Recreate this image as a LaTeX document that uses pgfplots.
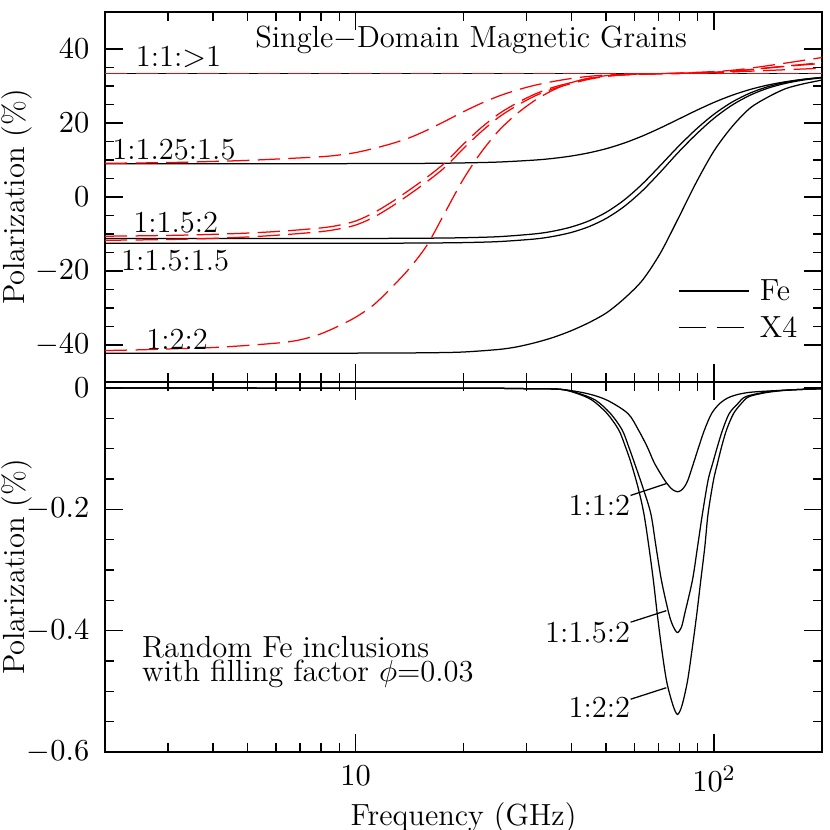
\documentclass[border=0pt]{standalone}
\usepackage{pgfplots}
\pgfplotsset{compat=1.18}
\definecolor{xred}{RGB}{255,0,0}
\tikzset{
  myfe/.style={black, line width=0.45pt, smooth},
  myxf/.style={xred, line width=0.45pt, smooth, dash pattern=on 8pt off 3pt},
}
\begin{document}
\begin{tikzpicture}[font=\fontsize{11pt}{13pt}\selectfont]
\path[use as bounding box] (0,0) rectangle (298.8pt,298.8pt);

% ---------------- top panel ----------------
\begin{axis}[
  xmode=log, xmin=2, xmax=200,
  scale only axis, width=258.12pt, height=133.2pt,
  at={(37.8pt,161.28pt)}, anchor=south west,
  xtick={10,100},
  minor xtick={2,3,4,5,6,7,8,9,20,30,40,50,60,70,80,90,200},
  minor y tick num=3,
  tick align=inside,
  major tick length=6.5pt, minor tick length=3.4pt,
  tick style={black, line width=0.5pt},
  axis line style={line width=0.5pt},
  ylabel={Polarization (\%)},
  ylabel style={at={(rel axis cs:-0.1228,0.5)}, anchor=center},
  yticklabel style={xshift=-2.1pt},
  ymin=-50, ymax=50, ytick={-40,-20,0,20,40},
  yticklabels={$-40$,$-20$,$0$,$20$,$40$},
  xticklabels={},
  legend image code/.code={\draw[#1] (0pt,0pt) -- (25.2pt,0pt);},
  legend style={draw=none, fill=none, at={(rel axis cs:0.7992,0.2738)}, anchor=north west,
    inner sep=0pt, row sep=6.2pt,
    nodes={inner sep=0pt, text height=7pt, text depth=0pt, anchor=west},
    /tikz/every odd column/.append style={column sep=3.6pt}},
]
\addlegendimage{black, line width=0.45pt}
\addlegendentry{Fe}
\addlegendimage{black, line width=0.45pt, dash pattern=on 9.8pt off 3.8pt}
\addlegendentry{X4}

% Fe curves
\addplot[myfe, no marks, forget plot] coordinates {(2,33.33) (200,33.33)};
\addplot[myfe, no marks, forget plot] coordinates {(2,9.0) (10,9.02) (15.85,9.09) (19.95,9.21) (25.12,9.45) (31.62,9.98) (35.48,10.42) (39.81,11.05) (44.67,11.92) (50.12,13.08) (56.23,14.60) (63.10,16.48) (70.79,18.65) (79.43,21.00) (89.13,23.37) (100,25.58) (112.2,27.49) (125.9,29.05) (141.3,30.26) (158.5,31.16) (177.8,31.82) (200,32.28)};
\addplot[myfe, no marks, forget plot] coordinates {(2,-11.2) (10,-11.2) (15.85,-11.13) (19.95,-11.01) (25.12,-10.72) (31.62,-9.97) (35.48,-9.26) (39.81,-8.15) (44.67,-6.49) (50.12,-4.08) (56.23,-0.75) (63.10,3.53) (70.79,8.51) (79.43,13.62) (89.13,18.33) (100,22.39) (112.2,25.64) (125.9,28.08) (141.3,29.81) (158.5,31.00) (177.8,31.80) (200,32.34)};
\addplot[myfe, no marks, forget plot] coordinates {(2,-12.5) (10,-12.5) (15.85,-12.43) (19.95,-12.33) (25.12,-12.05) (31.62,-11.35) (35.48,-10.67) (39.81,-9.63) (44.67,-8.05) (50.12,-5.73) (56.23,-2.51) (63.10,1.70) (70.79,6.72) (79.43,12.04) (89.13,16.95) (100,21.30) (112.2,24.82) (125.9,27.49) (141.3,29.41) (158.5,30.73) (177.8,31.62) (200,32.22)};
\addplot[myfe, no marks, forget plot] coordinates {(2,-42.2) (10,-42.2) (15.85,-42.1) (19.95,-41.9) (25.12,-41.2) (28.18,-40.5) (31.62,-39.4) (35.48,-38.0) (39.81,-36.2) (44.67,-34.0) (50.12,-31.3) (56.23,-27.4) (63.10,-22.5) (70.79,-15.2) (79.43,-5.8) (89.13,3.9) (100,12.5) (112.2,19.0) (125.9,24.0) (141.3,27.0) (158.5,29.3) (177.8,30.6) (200,31.6)};

% X4 curves
\addplot[myxf, no marks, forget plot] coordinates {(2,33.33) (200,33.33)};
\addplot[myxf, no marks, forget plot] coordinates {(2,9.1) (2.512,9.2) (3.162,9.35) (3.981,9.6) (5.012,9.9) (6.310,10.35) (7.943,10.85) (8.913,11.3) (10,12.0) (11.22,13.1) (12.59,14.4) (14.13,16.0) (15.85,18.1) (17.78,20.5) (19.95,23.0) (22.39,25.3) (25.12,27.3) (28.18,28.9) (31.62,30.2) (35.48,31.2) (39.81,32.0) (44.67,32.6) (50.12,32.95) (63.10,33.25) (79.43,33.4) (100,33.6) (125.9,34.0) (158.5,34.4) (200,34.8)};
\addplot[myxf, no marks, forget plot] coordinates {(2,-10.6) (2.512,-10.5) (3.162,-10.35) (3.981,-10.1) (5.012,-9.75) (6.310,-9.2) (7.943,-8.4) (8.913,-7.7) (10,-6.5) (11.22,-4.3) (12.59,-1.4) (14.13,1.9) (15.85,5.4) (17.78,9.3) (19.95,14.2) (22.39,18.7) (25.12,22.5) (28.18,25.4) (31.62,27.8) (35.48,29.6) (39.81,30.9) (44.67,32.0) (50.12,32.7) (56.23,33.0) (63.10,33.2) (79.43,33.4) (100,33.7) (112.2,34.0) (125.9,34.4) (158.5,35.3) (200,36.1)};
\addplot[myxf, no marks, forget plot] coordinates {(2,-11.7) (2.512,-11.6) (3.162,-11.45) (3.981,-11.2) (5.012,-10.8) (6.310,-10.2) (7.943,-9.4) (8.913,-8.7) (10,-7.6) (11.22,-5.5) (12.59,-2.6) (14.13,0.7) (15.85,4.2) (17.78,8.1) (19.95,13.0) (22.39,17.6) (25.12,21.6) (28.18,24.7) (31.62,27.3) (35.48,29.2) (39.81,30.6) (44.67,31.8) (50.12,32.6) (56.23,33.0) (63.10,33.2) (79.43,33.4) (100,33.7) (112.2,34.0) (125.9,34.45) (158.5,35.4) (200,36.3)};
\addplot[myxf, no marks, forget plot] coordinates {(2,-41.5) (2.512,-41.3) (3.162,-41.0) (3.981,-40.7) (5.012,-40.1) (6.310,-39.3) (7.079,-38.5) (7.943,-37.1) (8.913,-35.0) (10,-32.5) (11.22,-29.2) (12.59,-24.5) (14.13,-19.3) (15.85,-12.9) (17.78,-4.1) (19.95,4.7) (22.39,12.05) (25.12,18.0) (28.18,22.5) (31.62,26.1) (35.48,28.85) (39.81,30.85) (44.67,32.1) (50.12,32.8) (56.23,33.1) (63.10,33.25) (79.43,33.5) (100,33.9) (112.2,34.25) (125.9,34.8) (158.5,36.2) (200,37.7)};

\node[anchor=center] at (axis cs:21,42.5) {Single$-$Domain Magnetic Grains};
\node[anchor=west, inner sep=0pt] at (axis cs:2.43,37.8) {1:1:$>$1};
\node[anchor=west, inner sep=0pt] at (axis cs:2.09,12.8) {1:1.25:1.5};
\node[anchor=west, inner sep=0pt] at (axis cs:2.39,-7.0) {1:1.5:2};
\node[anchor=west, inner sep=0pt] at (axis cs:2.21,-17.3) {1:1.5:1.5};
\node[anchor=west, inner sep=0pt] at (axis cs:2.60,-38.4) {1:2:2};
\end{axis}

% ---------------- bottom panel ----------------
\begin{axis}[
  xmode=log, xmin=2, xmax=200,
  scale only axis, width=258.12pt, height=133.2pt,
  at={(37.8pt,28.08pt)}, anchor=south west,
  xtick={10,100},
  minor xtick={2,3,4,5,6,7,8,9,20,30,40,50,60,70,80,90,200},
  minor y tick num=3,
  tick align=inside,
  major tick length=6.5pt, minor tick length=3.4pt,
  tick style={black, line width=0.5pt},
  axis line style={line width=0.5pt},
  ylabel={Polarization (\%)},
  ylabel style={at={(rel axis cs:-0.1228,0.5)}, anchor=center},
  yticklabel style={xshift=-2.1pt},
  xticklabel style={yshift=-1.4pt},
  ymin=-0.6, ymax=0.01, ytick={-0.6,-0.4,-0.2,0},
  yticklabels={$-0.6$,$-0.4$,$-0.2$,$0$},
  xticklabels={$10$,$10^2$},
  xlabel={Frequency (GHz)},
  xlabel style={at={(rel axis cs:0.5,-0.178)}, anchor=center},
]
\addplot[myfe, no marks] coordinates {(2,0) (20,-0.0003) (30,-0.001) (37.2,-0.002) (44.2,-0.009) (50.3,-0.020) (57.5,-0.042) (61.5,-0.069) (65.1,-0.097) (68.2,-0.124) (72.8,-0.152) (75.5,-0.164) (77.3,-0.169) (79.0,-0.171) (80.8,-0.169) (82.6,-0.163) (84.5,-0.152) (87.6,-0.124) (90.6,-0.097) (94.0,-0.069) (98.4,-0.042) (103.9,-0.025) (111.4,-0.014) (125.9,-0.007) (164,-0.003) (200,-0.001)};
\addplot[myfe, no marks] coordinates {(2,0) (20,-0.0003) (30,-0.001) (37.2,-0.002) (41.5,-0.008) (46.7,-0.020) (51.4,-0.042) (55.4,-0.069) (57.8,-0.097) (60.0,-0.124) (63.2,-0.163) (66.6,-0.207) (68.8,-0.260) (71.3,-0.317) (74.8,-0.372) (76.9,-0.393) (79.0,-0.403) (81.1,-0.394) (82.8,-0.372) (87.0,-0.317) (89.9,-0.262) (92.8,-0.207) (96.2,-0.152) (99.1,-0.124) (102.1,-0.097) (105.6,-0.069) (110.2,-0.042) (116.7,-0.025) (122.7,-0.014) (141.3,-0.006) (164,-0.003) (200,-0.001)};
\addplot[myfe, no marks] coordinates {(2,0) (20,-0.0003) (30,-0.001) (37.2,-0.002) (41.5,-0.009) (45.7,-0.020) (50.3,-0.042) (54.2,-0.069) (56.6,-0.097) (58.7,-0.124) (61.3,-0.163) (63.7,-0.207) (65.8,-0.262) (67.7,-0.317) (69.4,-0.372) (71.3,-0.427) (73.7,-0.483) (76.7,-0.522) (79.0,-0.538) (81.3,-0.524) (84.3,-0.483) (87.0,-0.427) (89.5,-0.372) (91.8,-0.317) (94.2,-0.262) (96.2,-0.207) (99.6,-0.152) (102.2,-0.124) (104.9,-0.097) (108.3,-0.069) (113.3,-0.042) (119.3,-0.025) (125.3,-0.014) (141.3,-0.007) (164,-0.003) (200,-0.001)};

\draw[line width=0.45pt] (axis cs:58.5,-0.177) -- (axis cs:73.6,-0.1575);
\draw[line width=0.45pt] (axis cs:58.5,-0.386) -- (axis cs:73.6,-0.367);
\draw[line width=0.45pt] (axis cs:58.5,-0.513) -- (axis cs:73.6,-0.494);
\node[anchor=east, inner sep=0pt] at (axis cs:58.5,-0.193) {1:1:2};
\node[anchor=east, inner sep=0pt] at (axis cs:58.5,-0.403) {1:1.5:2};
\node[anchor=east, inner sep=0pt] at (axis cs:58.5,-0.527) {1:2:2};
\node[anchor=west, inner sep=0pt] at (axis cs:2.53,-0.4276) {Random Fe inclusions};
\node[anchor=west, inner sep=0pt] at (axis cs:2.53,-0.4716) {with filling factor $\phi$=0.03};
\end{axis}
\end{tikzpicture}
\end{document}
